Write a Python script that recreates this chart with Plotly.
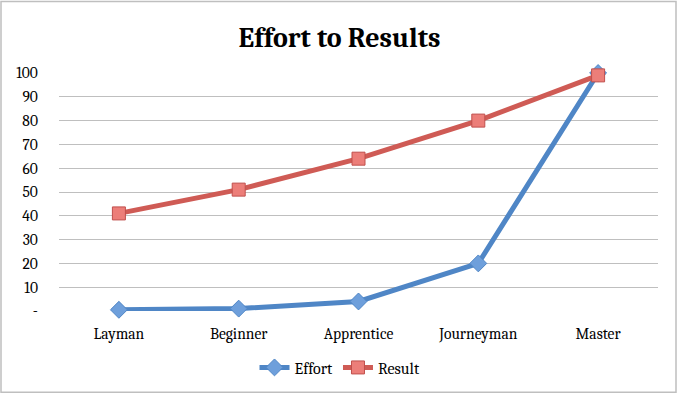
import plotly.graph_objects as go

categories = ["Layman", "Beginner", "Apprentice", "Journeyman", "Master"]
effort = [0.5, 1, 4, 20, 100]
result = [41, 51, 64, 80, 99]
y_tick_vals = [0, 10, 20, 30, 40, 50, 60, 70, 80, 90, 100]
y_tick_text = ["-", "10", "20", "30", "40", "50", "60", "70", "80", "90", "100"]

W, H = 679, 397
L, R, T, B = 59, 21, 73, 84

serif = "Cambria, Caladea, 'Liberation Serif', 'DejaVu Serif', serif"

fig = go.Figure()
fig.add_trace(go.Scatter(
    x=categories, y=effort, name="Effort", mode="lines+markers",
    line=dict(color="#4F86C6", width=5),
    marker=dict(symbol="diamond", size=13, color="#6E9FDB",
                line=dict(color="#4F86C6", width=1)),
    cliponaxis=False,
))
fig.add_trace(go.Scatter(
    x=categories, y=result, name="Result", mode="lines+markers",
    line=dict(color="#CF5B55", width=5),
    marker=dict(symbol="square", size=13, color="#EC7E79",
                line=dict(color="#C0504D", width=1)),
    cliponaxis=False,
))

pw = W - L - R
ph = H - T - B
fig.add_shape(type="rect", xref="paper", yref="paper",
              x0=(1 - L) / pw, x1=(676 - L) / pw,
              y0=-(395 - (H - B)) / ph, y1=((H - B) - 1) / ph,
              line=dict(color="#BFBFBF", width=1.5), layer="below")

fig.update_layout(
    width=W, height=H,
    margin=dict(l=L, r=R, t=T, b=B),
    paper_bgcolor="white", plot_bgcolor="white",
    title=dict(text="<b>Effort to Results</b>", x=0.5, xanchor="center",
               y=1 - 37 / H, yanchor="middle",
               font=dict(family=serif, size=28, color="black")),
    font=dict(family=serif, size=15, color="black"),
    showlegend=True,
    legend=dict(orientation="h", x=(340 - L) / pw, xanchor="center",
                y=-(370 - (H - B)) / ph, yanchor="middle",
                font=dict(family=serif, size=16, color="black"),
                itemwidth=30, tracegroupgap=0),
    xaxis=dict(type="category", showgrid=False, showline=False, zeroline=False,
               ticks="outside", ticklen=8, tickcolor="rgba(0,0,0,0)",
               tickfont=dict(family=serif, size=15.5, color="black"),
               range=[-0.5, 4.5], fixedrange=True),
    yaxis=dict(range=[0, 100], tickvals=y_tick_vals, ticktext=y_tick_text,
               showgrid=True, gridcolor="#BFBFBF", gridwidth=1,
               showline=False, zeroline=False,
               ticks="outside", ticklen=17, tickcolor="rgba(0,0,0,0)",
               tickfont=dict(family=serif, size=15.5, color="black"),
               fixedrange=True),
)

fig.write_html("out.html", config={"displayModeBar": False},
               post_script="document.body.style.margin='0';")
